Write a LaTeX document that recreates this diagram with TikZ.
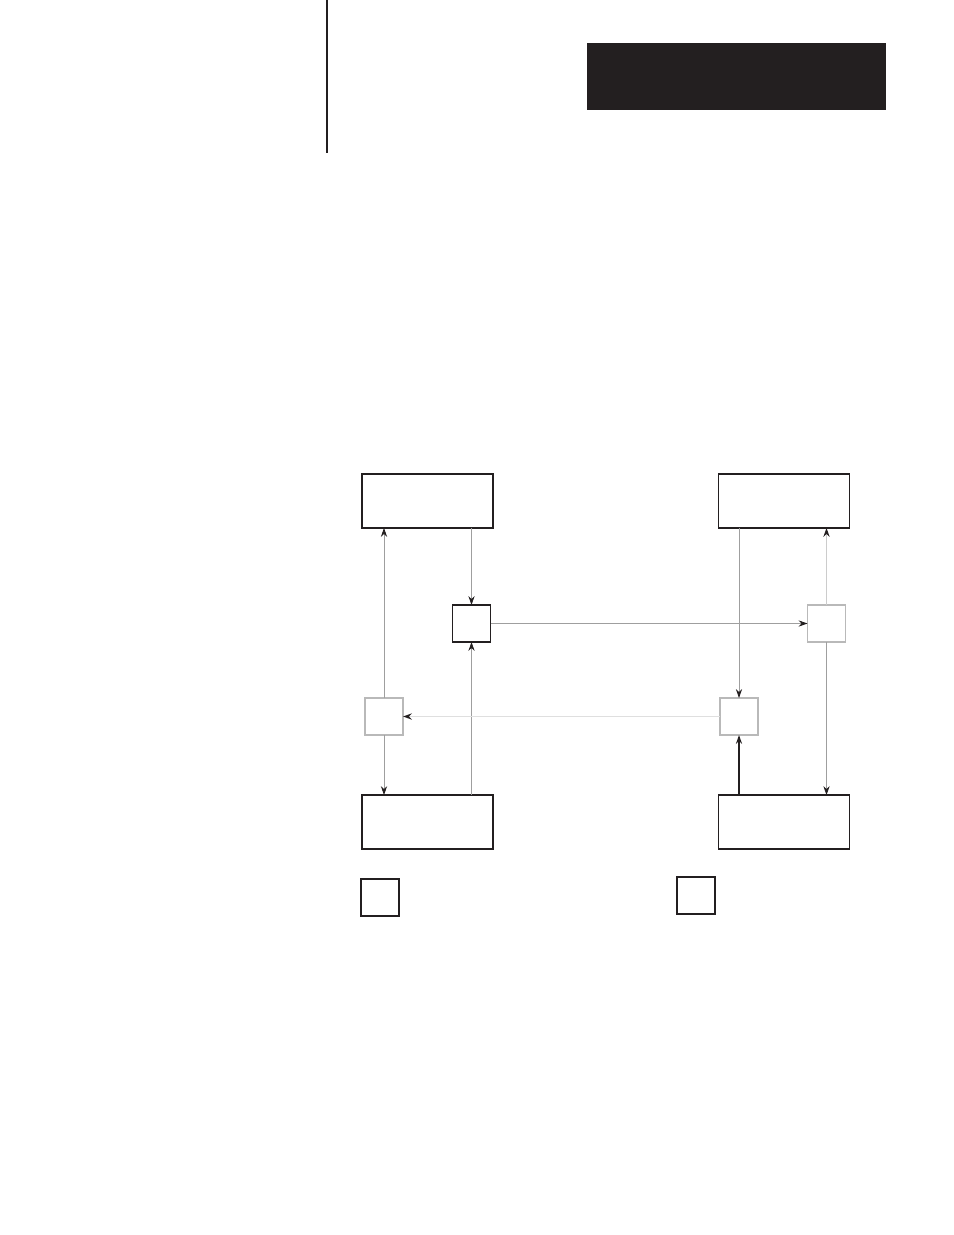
\documentclass[tikz,border=0pt]{standalone}
\usepackage{tikz}
\usetikzlibrary{arrows.meta}
\definecolor{ink}{RGB}{35,31,32}
\begin{document}
\begin{tikzpicture}[x=0.02263cm,y=-0.02263cm,inner sep=0mm,outer sep=0mm,
  bigbox/.style={rectangle,draw=ink,line width=0.8pt,minimum width=2.96cm,minimum height=1.22cm},
  smallbox/.style={rectangle,draw=ink,line width=0.8pt,minimum width=0.86cm,minimum height=0.84cm},
  greybox/.style={rectangle,draw=gray!55,line width=0.8pt,minimum width=0.86cm,minimum height=0.84cm},
  flow/.style={draw=gray!75,line width=0.5pt,-{Stealth[length=2mm,width=1.4mm,color=ink]}}]
\useasboundingbox (0,0) rectangle (954,1235);
%Page Header
\node at (736.5,76.5) [rectangle,fill=ink,minimum width=6.77cm,minimum height=1.52cm] (Header) {};
\coordinate (RuleTop) at (327,0);
\coordinate (RuleEnd) at (327,153);
\draw [ink,line width=0.7pt] (RuleTop) -- (RuleEnd);
%Node Coordinates
\node at (427.5,501) [bigbox] (TopLeft) {};
\node at (784,501) [bigbox] (TopRight) {};
\node at (427.5,822) [bigbox] (BotLeft) {};
\node at (784,822) [bigbox] (BotRight) {};
\node at (471.5,623.5) [smallbox] (JoinA) {};
\node at (826.5,623.5) [greybox] (JoinB) {};
\node at (384,716.5) [greybox] (JoinC) {};
\node at (739,716.5) [greybox] (JoinD) {};
% Legend Boxes
\node at (380,897.5) [smallbox] (Key1) {};
\node at (696,895.5) [smallbox] (Key2) {};
%Connections
\draw [flow] (JoinC.north) -- (JoinC.north |- TopLeft.south);
\draw [flow] (JoinC.south) -- (JoinC.south |- BotLeft.north);
\draw [flow] (JoinA.north |- TopLeft.south) -- (JoinA.north);
\draw [flow] (JoinA.south |- BotLeft.north) -- (JoinA.south);
\draw [flow] (JoinA.east) -- (JoinB.west);
\draw [flow] (JoinD.north |- TopRight.south) -- (JoinD.north);
\draw [flow,draw=ink,line width=0.8pt] (JoinD.south |- BotRight.north) -- (JoinD.south);
\draw [flow,draw=gray!25,line width=1pt] (JoinD.west) -- (JoinC.east);
\draw [flow,draw=gray!40,line width=0.7pt] (JoinB.north) -- (JoinB.north |- TopRight.south);
\draw [flow] (JoinB.south) -- (JoinB.south |- BotRight.north);

\end{tikzpicture}
\end{document}
